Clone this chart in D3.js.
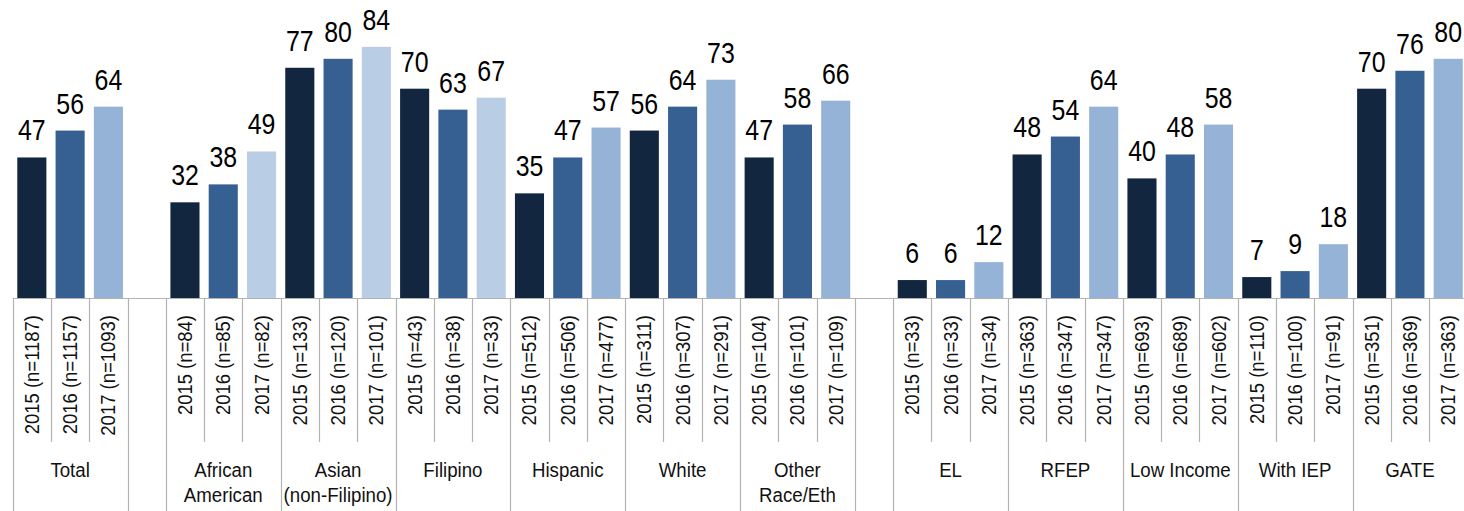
<!DOCTYPE html>
<html>
<head>
<meta charset="utf-8">
<script src="https://cdn.jsdelivr.net/npm/d3@7"></script>
<style>
  html, body { margin: 0; padding: 0; background: #fff; }
  svg { display: block; font-family: "Liberation Sans", Arial, sans-serif; }
</style>
</head>
<body>
<svg id="chart" width="1464" height="511"></svg>
<script>
// ---- data ----
const categories = ["Total", "African American", "Asian (non-Filipino)", "Filipino", "Hispanic", "White",
                    "Other Race/Eth", "EL", "RFEP", "Low Income", "With IEP", "GATE"];
const categoryLines = [["Total"], ["African", "American"], ["Asian", "(non-Filipino)"], ["Filipino"],
                       ["Hispanic"], ["White"], ["Other", "Race/Eth"], ["EL"], ["RFEP"], ["Low Income"],
                       ["With IEP"], ["GATE"]];
const years = ["2015", "2016", "2017"];
const values2015 = [47, 32, 77, 70, 35, 56, 47, 6, 48, 40, 7, 70];
const values2016 = [56, 38, 80, 63, 47, 64, 58, 6, 54, 48, 9, 76];
const values2017 = [64, 49, 84, 67, 57, 73, 66, 12, 64, 58, 18, 80];
const n2015 = [1187, 84, 133, 43, 512, 311, 104, 33, 363, 693, 110, 351];
const n2016 = [1157, 85, 120, 38, 506, 307, 101, 33, 347, 689, 100, 369];
const n2017 = [1093, 82, 101, 33, 477, 291, 109, 34, 347, 602, 91, 363];
// an empty slot follows these categories
const spacerAfter = ["Total", "Other Race/Eth"];

// ---- styling ----
const yearColors = ["#13263f", "#376092", "#95b3d7"];
const paleColor = "#b9cde5";                       // 2017 tint for the first three race groups
const paleGroups = ["African American", "Asian (non-Filipino)", "Filipino"];
const lineColor = "#b3b3b3";

const seriesValues = [values2015, values2016, values2017];
const seriesN = [n2015, n2016, n2017];

// build the slot list: three year slots per category plus spacer slots
const slots = [];
const groupsInfo = [];
categories.forEach((cat, ci) => {
  const keys = years.map((yr, yi) => {
    const key = cat + "|" + yr;
    slots.push({ key, cat, ci, yi, value: seriesValues[yi][ci], n: seriesN[yi][ci] });
    return key;
  });
  groupsInfo.push({ cat, ci, keys, lines: categoryLines[ci] });
  if (spacerAfter.includes(cat)) {
    const key = "gap|" + cat;
    slots.push({ key, gap: true });
    groupsInfo.push({ cat: "", keys: [key], lines: [], gap: true });
  }
});

const svg = d3.select("#chart");
const axisY = 298;
const slotW = 38.28;
const left = 12.7;

const x = d3.scaleBand()
  .domain(slots.map(s => s.key))
  .range([left, left + slots.length * slotW])
  .paddingInner(0).paddingOuter(0);

const y = d3.scaleLinear().domain([0, 100]).range([axisY, axisY - 299]);

const barW = x.bandwidth() * 0.76;
const bars = slots.filter(s => !s.gap);

// bars
svg.append("g").selectAll("rect")
  .data(bars)
  .join("rect")
  .attr("x", d => x(d.key) + (x.bandwidth() - barW) / 2)
  .attr("y", d => y(d.value))
  .attr("width", barW)
  .attr("height", d => y(0) - y(d.value))
  .attr("fill", d => (d.yi === 2 && paleGroups.includes(d.cat)) ? paleColor : yearColors[d.yi]);

// value labels
svg.append("g").selectAll("text")
  .data(bars)
  .join("text")
  .attr("transform", d => `translate(${x(d.key) + x.bandwidth() / 2},${y(d.value) - 17}) scale(0.83,1)`)
  .attr("text-anchor", "middle")
  .attr("font-size", 30)
  .attr("fill", "#000")
  .text(d => d.value);

// category axis: baseline
const axis = svg.append("g");
axis.append("line")
  .attr("x1", left).attr("x2", 1464)
  .attr("y1", axisY + 0.5).attr("y2", axisY + 0.5)
  .attr("stroke", lineColor).attr("stroke-width", 1.2);

// short separators between years inside a group
const innerTicks = [];
groupsInfo.forEach(g => {
  g.keys.slice(1).forEach(k => innerTicks.push(x(k)));
});
axis.selectAll("line.inner")
  .data(innerTicks)
  .join("line")
  .attr("class", "inner")
  .attr("x1", d => Math.round(d) + 0.5).attr("x2", d => Math.round(d) + 0.5)
  .attr("y1", axisY).attr("y2", 442)
  .attr("stroke", lineColor).attr("stroke-width", 1.2);

// full-height separators between groups
const groupEdges = groupsInfo.map(g => x(g.keys[0]));
groupEdges.push(x(slots[slots.length - 1].key) + x.bandwidth());
axis.selectAll("line.outer")
  .data(groupEdges)
  .join("line")
  .attr("class", "outer")
  .attr("x1", d => Math.round(d) + 0.5).attr("x2", d => Math.round(d) + 0.5)
  .attr("y1", axisY).attr("y2", 511)
  .attr("stroke", lineColor).attr("stroke-width", 1.2);

// rotated year / n labels
axis.selectAll("text.year")
  .data(bars)
  .join("text")
  .attr("class", "year")
  .attr("transform", d => `translate(${x(d.key) + x.bandwidth() / 2 + 7},315) rotate(-90) scale(0.88,1)`)
  .attr("text-anchor", "end")
  .attr("font-size", 21)
  .attr("fill", "#111")
  .text(d => `${years[d.yi]} (n=${d.n})`);

// group labels
const glab = axis.selectAll("text.group")
  .data(groupsInfo.filter(g => !g.gap))
  .join("text")
  .attr("class", "group")
  .attr("font-size", 21)
  .attr("fill", "#111")
  .attr("text-anchor", "middle")
  .attr("transform", g => {
    const cx = (x(g.keys[0]) + x(g.keys[2]) + x.bandwidth()) / 2;
    return `translate(${cx},477) scale(0.89,1)`;
  });
glab.selectAll("tspan")
  .data(g => g.lines)
  .join("tspan")
  .attr("x", 0)
  .attr("y", (d, i) => i * 25)
  .text(d => d);
</script>
</body>
</html>
